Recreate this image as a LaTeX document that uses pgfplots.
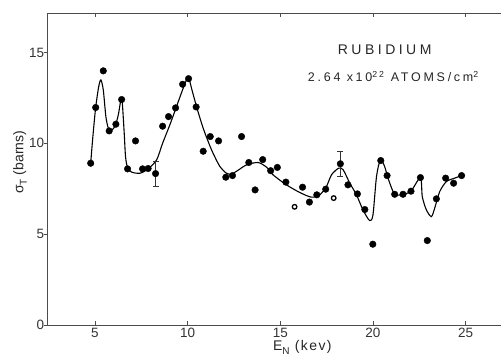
\documentclass[border=0pt]{standalone}
\usepackage{pgfplots}
\pgfplotsset{compat=1.18}
\usepackage{fontspec}
\setmainfont{Liberation Sans}
\newfontfamily\widefont[LetterSpace=25]{Liberation Sans}
\newfontfamily\midfont[LetterSpace=22]{Liberation Sans}
\newfontfamily\lblfont[LetterSpace=10]{Liberation Sans}
\begin{document}
\begin{tikzpicture}
\begin{axis}[
  scale only axis, width=453.3pt, height=311.7pt,
  xmin=2.45, xmax=26.89, ymin=0, ymax=17.16,
  axis x line*=box, axis y line*=left,
  xtick={5,10,15,20,25}, ytick={0,5,10,15},
  major tick length=4pt,
  tick align=inside,
  ytick style={xshift=-4pt},
  /pgf/number format/assume math mode=true,
  ticklabel style={font=\fontsize{13.5}{14}\selectfont, text=black!80},
  axis line style={black!70, line width=0.6pt},
  tick style={black!70, line width=0.5pt},
  clip=false,
]
% fitted curve
\addplot[black, line width=1.1pt, smooth, tension=0.45] coordinates {
(4.77,8.90)(4.90,10.5)(5.04,11.97)(5.20,13.1)(5.32,13.49)(5.45,12.94)(5.59,11.47)(5.72,10.83)(5.85,10.70)(6.08,10.92)(6.26,11.56)(6.40,12.40)(6.47,12.3)(6.58,10.55)(6.65,9.27)(6.76,8.65)(6.98,8.41)(7.43,8.35)(7.87,8.59)(8.33,9.09)(8.65,10.0)(9.04,11.01)(9.40,12.02)(9.76,13.03)(10.03,13.64)(10.21,13.03)(10.48,12.02)(10.84,10.83)(11.29,9.64)(11.74,8.72)(12.1,8.35)(12.37,8.30)(12.7,8.5)(13.18,8.81)(13.80,8.94)(14.26,8.68)(14.61,8.26)(15.33,7.71)(16.05,7.29)(16.68,7.03)(17.13,7.16)(17.49,7.62)(17.76,8.26)(18.15,8.63)(18.39,8.54)(18.75,7.80)(19.11,7.16)(19.46,6.33)(19.82,5.74)(20.0,6.06)(20.19,8.17)(20.40,9.09)(20.63,8.72)(20.81,8.08)(21.17,7.19)(21.62,7.19)(22.05,7.36)(22.56,8.11)(22.66,7.06)(22.88,6.33)(23.15,5.96)(23.33,6.43)(23.6,7.34)(23.96,7.89)(24.41,8.08)(24.78,8.22)
};
% data points
\addplot[only marks, mark=*, mark size=3.3pt, black] coordinates {
(4.77,8.90)(5.04,11.97)(5.45,13.99)(5.77,10.68)(6.13,11.05)(6.44,12.41)(6.76,8.59)(7.19,10.13)(7.57,8.59)(7.87,8.61)(8.65,10.94)(8.97,11.47)(9.35,11.95)(9.73,13.25)(10.05,13.56)(10.46,12.0)(10.84,9.56)(11.22,10.37)(11.67,10.13)(12.06,8.13)(12.42,8.22)(12.91,10.37)(13.30,8.94)(13.64,7.43)(14.05,9.10)(14.48,8.49)(14.84,8.67)(15.30,7.86)(16.20,7.58)(16.57,6.76)(16.97,7.16)(17.45,7.47)(18.65,7.71)(19.16,7.21)(19.56,6.35)(19.99,4.44)(20.42,9.05)(20.76,8.22)(21.17,7.19)(21.62,7.19)(22.05,7.36)(22.56,8.11)(22.93,4.64)(23.42,6.94)(23.92,8.08)(24.35,7.80)(24.78,8.22)
};
% open points
\addplot[only marks, mark=o, mark size=2.3pt, black, line width=1.3pt] coordinates {
(15.77,6.50)(17.88,6.98)
};
% points with error bars
\addplot[only marks, mark=*, mark size=3.3pt, black,
  error bars/.cd, y dir=both, y explicit, error mark=none,
  error bar style={line width=0.6pt, black!80}] coordinates {
(8.27,8.33) +- (0,0.68)
(18.24,8.87) +- (0,0.68)
};
% error bar caps
\addplot[only marks, mark=-, mark size=3pt, black!80, line width=0.6pt] coordinates {
(8.27,9.01)(8.27,7.65)(18.24,9.55)(18.24,8.19)
};
\node[font=\widefont\fontsize{14}{14}\selectfont, text=black!85] at (axis cs:20.63,15.14) {RUBIDIUM};
\node[font=\midfont\fontsize{12.5}{14}\selectfont, text=black!85] at (axis cs:21.1,13.66) {2.64 x10\textsuperscript{22} ATOMS/cm\textsuperscript{2}};
\node[font=\fontsize{14}{14}\selectfont, text=black!85, rotate=90] at (axis cs:0.96,8.95) {σ\raisebox{-0.5ex}{\fontsize{10}{10}\selectfont T} (barns)};
\node[font=\lblfont\fontsize{14}{14}\selectfont, text=black!85, anchor=base west, inner sep=0pt] at (axis cs:14.6,-1.42) {E\raisebox{-0.5ex}{\fontsize{10}{10}\selectfont N} (kev)};
\end{axis}
\path[use as bounding box] (-47.7pt,-36pt) rectangle (453.3pt,325pt);
\end{tikzpicture}
\end{document}
